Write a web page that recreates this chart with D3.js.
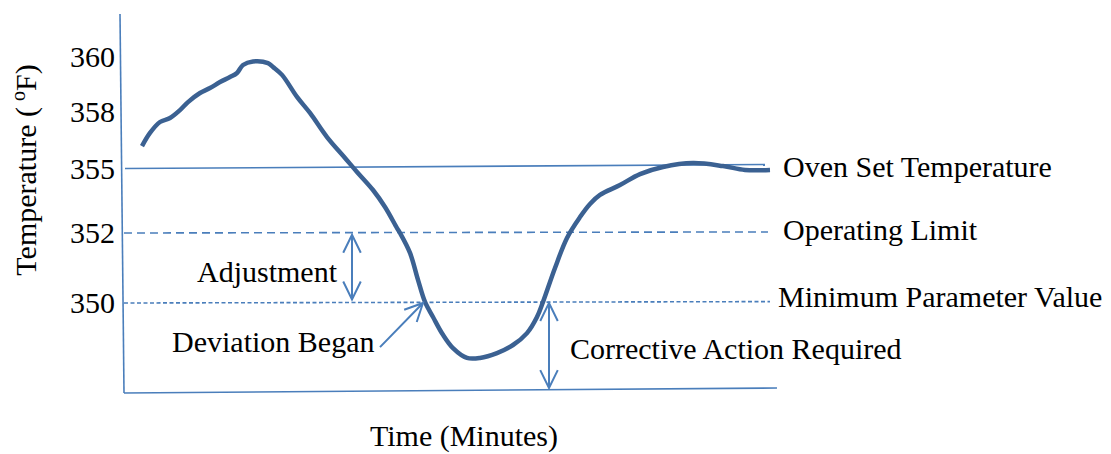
<!DOCTYPE html>
<html>
<head>
<meta charset="utf-8">
<script src="https://cdn.jsdelivr.net/npm/d3@7"></script>
<style>
  html, body { margin: 0; padding: 0; background: #fff; }
  svg { display: block; }
  text { font-family: "Liberation Serif", "Times New Roman", serif; fill: #000; }
</style>
</head>
<body>
<svg id="chart" width="1111" height="454"></svg>
<script>
// ---- data ----
const times = [1.8, 2.6, 3.6, 4.6, 5.6, 6.4, 7.6, 8.6, 9.6, 10.6, 11.3, 11.9, 12.9, 14.4, 14.9, 15.8,
  17.3, 18.6, 20.3, 22.1, 23.3, 24.9, 26.1, 27.3, 27.6, 28.6, 29.4, 30.1, 30.9, 31.9, 32.9, 34.3,
  35.6, 37.3, 38.9, 40.3, 41.3, 41.9, 43.1, 44.3, 45.6, 46.6, 47.6, 49.6, 51.6, 53.9, 56.9, 59.9, 62.1, 64.6];
const temps = [356.19, 356.89, 357.47, 357.68, 358.07, 358.36, 358.69, 358.87, 359.09, 359.27, 359.42, 359.71,
  359.84, 359.78, 359.64, 359.35, 358.55, 357.95, 356.67, 355.56, 354.84, 354.0, 353.21, 352.23, 352.0,
  351.43, 350.66, 350.03, 349.6, 349.09, 348.71, 348.43, 348.43, 348.57, 348.8, 349.14, 349.6, 350.03,
  351.0, 351.86, 352.74, 353.35, 353.77, 354.23, 354.74, 355.08, 355.29, 355.13, 354.93, 354.93];

const tickValues = [350, 352, 355, 358, 360];
const tickLabels = ["350", "352", "355", "358", "360"];

const refNames = ["Oven Set Temperature", "Operating Limit", "Minimum Parameter Value"];
const refTempStart = [355, 352, 350];
const refTempEnd = [355.21, 352.05, 350.04];
const refTimeStart = [0.1, 0, 0];
const refTimeEnd = [64.1, 64.4, 64.6];

// axis frame (hand-drawn, slightly skewed)
const yAxisTimes = [-0.4, 0];
const yAxisTemps = [361.56, 347.43];
const xAxisTimes = [0, 65.3];
const xAxisTemps = [347.43, 347.57];

// annotation arrows
const arrowNames = ["Adjustment", "Deviation Began", "Corrective Action Required"];
const arrowTimeFrom = [22.8, 25.6, 42.5];
const arrowTempFrom = [350.1, 348.74, 347.57];
const arrowTimeTo = [22.8, 29.9, 42.5];
const arrowTempTo = [351.95, 350.0, 350.0];
const arrowDouble = [true, false, true];

// ---- drawing ----
const svg = d3.select("#chart");
const x = d3.scaleLinear().domain([0, 65]).range([124, 774]);
const y = d3.scaleLinear().domain([350, 352, 355, 358, 360]).range([303, 233, 168.5, 112, 57]);

const axisColor = "#4a7ebb";
const curveColor = "#3b6192";

// axis frame lines
const seg = d3.line().x(d => x(d[0])).y(d => y(d[1]));
svg.append("path")
  .attr("d", seg(d3.zip(yAxisTimes, yAxisTemps)))
  .attr("stroke", axisColor).attr("stroke-width", 1.6).attr("fill", "none");
svg.append("path")
  .attr("d", seg(d3.zip(xAxisTimes, xAxisTemps)))
  .attr("stroke", axisColor).attr("stroke-width", 1.6).attr("fill", "none");

// y axis labels via d3 axis
const yAxis = d3.axisLeft(y).tickValues(tickValues)
  .tickFormat((d, i) => tickLabels[i]).tickSize(0).tickPadding(9);
const gy = svg.append("g").attr("transform", `translate(${x(0)},0)`).call(yAxis);
gy.select(".domain").remove();
gy.selectAll("text")
  .attr("font-family", "Liberation Serif, Times New Roman, serif")
  .attr("font-size", 30).attr("dy", "0.33em").attr("fill", "#000");

// reference lines
const dashes = [null, "8,5", "4,2.5"];
refNames.forEach((name, i) => {
  svg.append("line")
    .attr("x1", x(refTimeStart[i])).attr("y1", y(refTempStart[i]))
    .attr("x2", x(refTimeEnd[i])).attr("y2", y(refTempEnd[i]))
    .attr("stroke", axisColor).attr("stroke-width", 1.6)
    .attr("stroke-dasharray", dashes[i]);
});
const refLabelDx = [18, 15, 8];
const refLabelDy = [12, 8, 5];
refNames.forEach((name, i) => {
  svg.append("text")
    .attr("x", x(refTimeEnd[i]) + refLabelDx[i])
    .attr("y", y(refTempEnd[i]) + refLabelDy[i])
    .attr("font-size", 30)
    .text(name);
});

// temperature curve
svg.append("path")
  .datum(d3.zip(times, temps))
  .attr("d", d3.line().x(d => x(d[0])).y(d => y(d[1])).curve(d3.curveCatmullRom.alpha(0.5)))
  .attr("fill", "none").attr("stroke", curveColor).attr("stroke-width", 4.5)
  .attr("stroke-linejoin", "round").attr("stroke-linecap", "butt");

// arrows
function head(px, py, fx, fy) {
  const ang = Math.atan2(py - fy, px - fx);
  const L = 20, a = 26 * Math.PI / 180;
  const p1 = [px - L * Math.cos(ang - a), py - L * Math.sin(ang - a)];
  const p2 = [px - L * Math.cos(ang + a), py - L * Math.sin(ang + a)];
  return `M${p1[0]},${p1[1]}L${px},${py}L${p2[0]},${p2[1]}`;
}
arrowNames.forEach((name, i) => {
  const x1 = x(arrowTimeFrom[i]), y1 = y(arrowTempFrom[i]);
  const x2 = x(arrowTimeTo[i]), y2 = y(arrowTempTo[i]);
  let d = `M${x1},${y1}L${x2},${y2}` + head(x2, y2, x1, y1);
  if (arrowDouble[i]) d += head(x1, y1, x2, y2);
  svg.append("path").attr("d", d)
    .attr("fill", "none").attr("stroke", axisColor).attr("stroke-width", 2)
    .attr("stroke-linejoin", "miter");
});

// annotation labels
svg.append("text").attr("x", 197).attr("y", 282).attr("font-size", 30).text(arrowNames[0]);
svg.append("text").attr("x", 172).attr("y", 351.5).attr("font-size", 30).text(arrowNames[1]);
svg.append("text").attr("x", 570).attr("y", 358.5).attr("font-size", 30).text(arrowNames[2]);

// axis titles
svg.append("text").attr("x", 464).attr("y", 446).attr("text-anchor", "middle")
  .attr("font-size", 30).text("Time (Minutes)");
const yt = svg.append("text").attr("transform", "translate(36,170) rotate(-90)")
  .attr("text-anchor", "middle").attr("font-size", 30);
yt.append("tspan").text("Temperature (\u2009");
yt.append("tspan").attr("font-size", 20).attr("dy", -11).text("o");
yt.append("tspan").attr("dy", 11).text("F)");
</script>
</body>
</html>
